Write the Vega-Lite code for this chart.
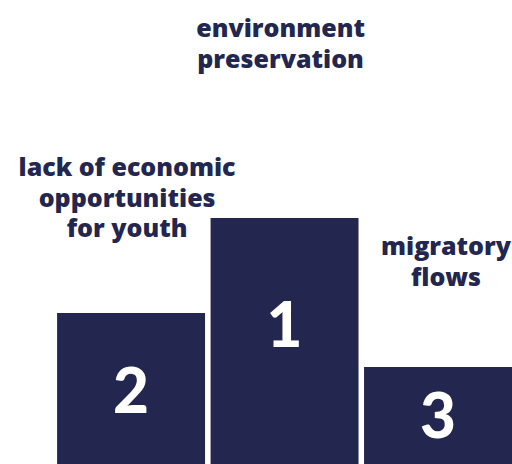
{
  "$schema": "https://vega.github.io/schema/vega-lite/v6.json",
  "width": 512,
  "height": 464,
  "padding": 0,
  "autosize": {"type": "none"},
  "background": "white",
  "config": {"view": {"stroke": null}},
  "data": {
    "values": [
      {"rank": "2", "label": "lack of economic\nopportunities\nfor youth", "height": 151, "labelAt": 288, "rankAt": 51},
      {"rank": "1", "label": "environment\npreservation", "height": 246, "labelAt": 427, "rankAt": 117},
      {"rank": "3", "label": "migratory\nflows", "height": 97, "labelAt": 209, "rankAt": 26}
    ]
  },
  "encoding": {
    "x": {
      "field": "rank",
      "type": "nominal",
      "sort": ["2", "1", "3"],
      "axis": null,
      "scale": {"paddingInner": 0.036, "paddingOuter": 0.186, "align": 1}
    }
  },
  "layer": [
    {
      "mark": {"type": "bar", "color": "#23264e"},
      "encoding": {
        "y": {"field": "height", "type": "quantitative", "axis": null, "scale": {"domain": [0, 464], "nice": false, "zero": true}}
      }
    },
    {
      "transform": [{"filter": "datum.rank != '3'"}],
      "mark": {"type": "text", "color": "#23264e", "font": "Open Sans", "fontWeight": 800, "fontSize": 25, "lineBreak": "\n", "lineHeight": 30.5, "baseline": "alphabetic", "align": "center", "dx": -4},
      "encoding": {
        "y": {"field": "labelAt", "type": "quantitative", "axis": null, "scale": {"domain": [0, 464], "nice": false}},
        "text": {"field": "label"}
      }
    },
    {
      "transform": [{"filter": "datum.rank == '3'"}],
      "mark": {"type": "text", "color": "#23264e", "font": "Open Sans", "fontWeight": 800, "fontSize": 25, "lineBreak": "\n", "lineHeight": 30.5, "baseline": "alphabetic", "align": "center", "dx": 8},
      "encoding": {
        "y": {"field": "labelAt", "type": "quantitative", "axis": null, "scale": {"domain": [0, 464], "nice": false}},
        "text": {"field": "label"}
      }
    },
    {
      "mark": {"type": "text", "color": "white", "font": "Lato", "fontWeight": 900, "fontSize": 62, "baseline": "alphabetic", "align": "center"},
      "encoding": {
        "y": {"field": "rankAt", "type": "quantitative", "axis": null, "scale": {"domain": [0, 464], "nice": false}},
        "text": {"field": "rank"}
      }
    }
  ]
}
